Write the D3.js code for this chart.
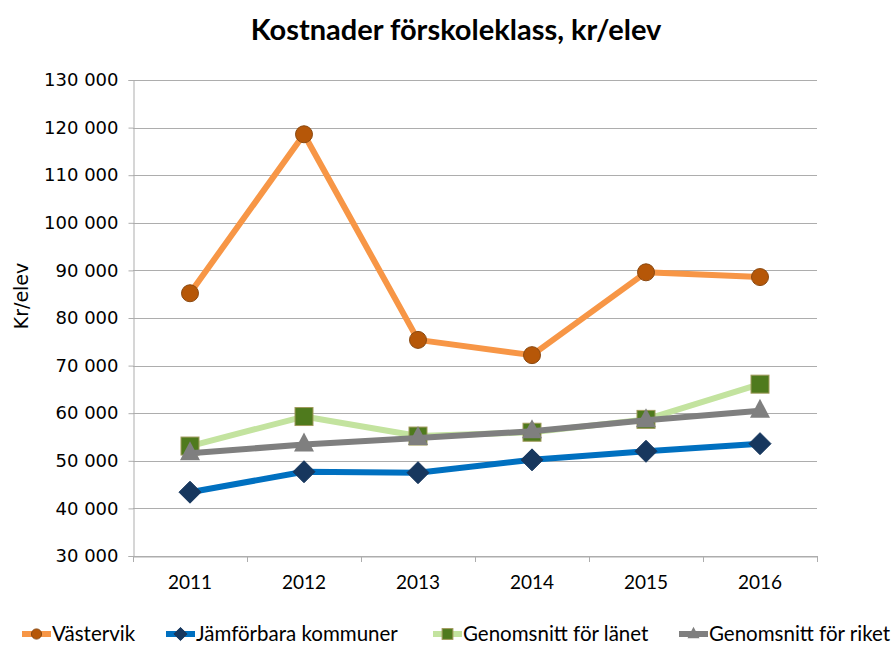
<!DOCTYPE html>
<html><head><meta charset="utf-8">
<script src="https://cdn.jsdelivr.net/npm/d3@7"></script>
<style>body{margin:0;background:#fff}svg{display:block}</style>
</head><body><svg id="c" width="893" height="646"></svg>
<script>
const years = ["2011","2012","2013","2014","2015","2016"];
const vastervik = [85200,118600,75400,72200,89600,88600];
const jamforbara = [43400,47700,47500,50200,52000,53600];
const lanet = [53100,59300,55200,56000,58700,66100];
const riket = [51600,53400,54800,56200,58500,60500];
const yTicks = [30000,40000,50000,60000,70000,80000,90000,100000,110000,120000,130000];

const series = [
  {name:"Västervik", values:vastervik, line:"#F79646", mark:"circle", fill:"#B65708", stroke:"#8B4A12"},
  {name:"Jämförbara kommuner", values:jamforbara, line:"#0070C0", mark:"diamond", fill:"#17375E", stroke:"#17375E"},
  {name:"Genomsnitt för länet", values:lanet, line:"#C3E39F", mark:"square", fill:"#4F7A1D", stroke:"#A09A5C"},
  {name:"Genomsnitt för riket", values:riket, line:"#7F7F7F", mark:"triangle", fill:"#7F7F7F", stroke:"#7F7F7F"}
];

const svg = d3.select("#c");
const L=133, R=817, T=80, B=556;
const x = d3.scaleBand().domain(years).range([L,R]);
const y = d3.scaleLinear().domain([30000,130000]).range([B,T]);
const fmt = v => d3.format(",")(v).replace(/,/g," ");

svg.append("text").attr("x",456).attr("y",40).attr("text-anchor","middle")
  .attr("font-family","Lato, 'Open Sans', sans-serif").attr("font-weight","bold").attr("font-size",29)
  .attr("fill","#000").text("Kostnader förskoleklass, kr/elev");

// gridlines
svg.append("g").selectAll("line").data(yTicks).join("line")
  .attr("x1",L).attr("x2",R).attr("y1",d=>Math.round(y(d))+0.5).attr("y2",d=>Math.round(y(d))+0.5)
  .attr("stroke","#ADADAD").attr("stroke-width",1);

const yAxis = svg.append("g").attr("transform",`translate(${L+0.5},0)`)
  .call(d3.axisLeft(y).tickValues(yTicks).tickFormat(fmt).tickSize(5).tickPadding(10));
yAxis.select(".domain").attr("stroke","#ADADAD");
yAxis.selectAll(".tick line").attr("stroke","#ADADAD");
yAxis.selectAll("text").attr("font-family","'DejaVu Sans', Verdana, sans-serif").attr("font-size",18).attr("fill","#000");

const xAxis = svg.append("g").attr("transform",`translate(0,${B+0.5})`)
  .call(d3.axisBottom(x).tickSize(0).tickPadding(19));
xAxis.select(".domain").attr("stroke","#ADADAD");
xAxis.selectAll("text").attr("font-family","Lato, 'Open Sans', sans-serif").attr("font-size",19).attr("fill","#000");
svg.append("g").selectAll("line").data(d3.range(years.length+1)).join("line")
  .attr("x1",i=>Math.round(L+i*x.step())+0.5).attr("x2",i=>Math.round(L+i*x.step())+0.5)
  .attr("y1",B).attr("y2",B+6).attr("stroke","#ADADAD");

svg.append("text").attr("transform","translate(28,296) rotate(-90)").attr("text-anchor","middle")
  .attr("font-family","'DejaVu Sans', Verdana, sans-serif").attr("font-size",19).text("Kr/elev");

function marker(g, type, cx, cy, s, fill, stroke){
  const sz = s||1;
  if(type==="circle") g.append("circle").attr("cx",cx).attr("cy",cy).attr("r",8.5*sz).attr("fill",fill).attr("stroke",stroke).attr("stroke-width",1);
  if(type==="diamond") g.append("path").attr("d",`M${cx},${cy-11*sz}L${cx+11*sz},${cy}L${cx},${cy+11*sz}L${cx-11*sz},${cy}Z`).attr("fill",fill).attr("stroke",stroke);
  if(type==="square") g.append("rect").attr("x",cx-9*sz).attr("y",cy-9*sz).attr("width",18*sz).attr("height",18*sz).attr("fill",fill).attr("stroke",stroke).attr("stroke-width",1);
  if(type==="triangle") g.append("path").attr("d",`M${cx},${cy-12*sz}L${cx+10*sz},${cy+7*sz}L${cx-10*sz},${cy+7*sz}Z`).attr("fill",fill);
}

const line = d3.line().x((d,i)=>x(years[i])+x.bandwidth()/2).y(d=>y(d));
series.forEach(s=>{
  const g = svg.append("g");
  g.append("path").attr("d",line(s.values)).attr("fill","none").attr("stroke",s.line).attr("stroke-width",6).attr("stroke-linejoin","round");
  s.values.forEach((v,i)=>marker(g,s.mark,x(years[i])+x.bandwidth()/2,y(v),1,s.fill,s.stroke));
});

// legend
const legX = [22,166,433,679];
series.forEach((s,i)=>{
  const g = svg.append("g");
  const lx = legX[i], ly = 634;
  g.append("line").attr("x1",lx).attr("x2",lx+29).attr("y1",ly).attr("y2",ly).attr("stroke",s.line).attr("stroke-width",6);
  marker(g,s.mark,lx+14.5,ly,0.6,s.fill,s.stroke);
  g.append("text").attr("x",lx+30).attr("y",ly+7).attr("font-family","Lato, 'Open Sans', sans-serif").attr("font-size",20.5).text(s.name);
});
</script></body></html>
